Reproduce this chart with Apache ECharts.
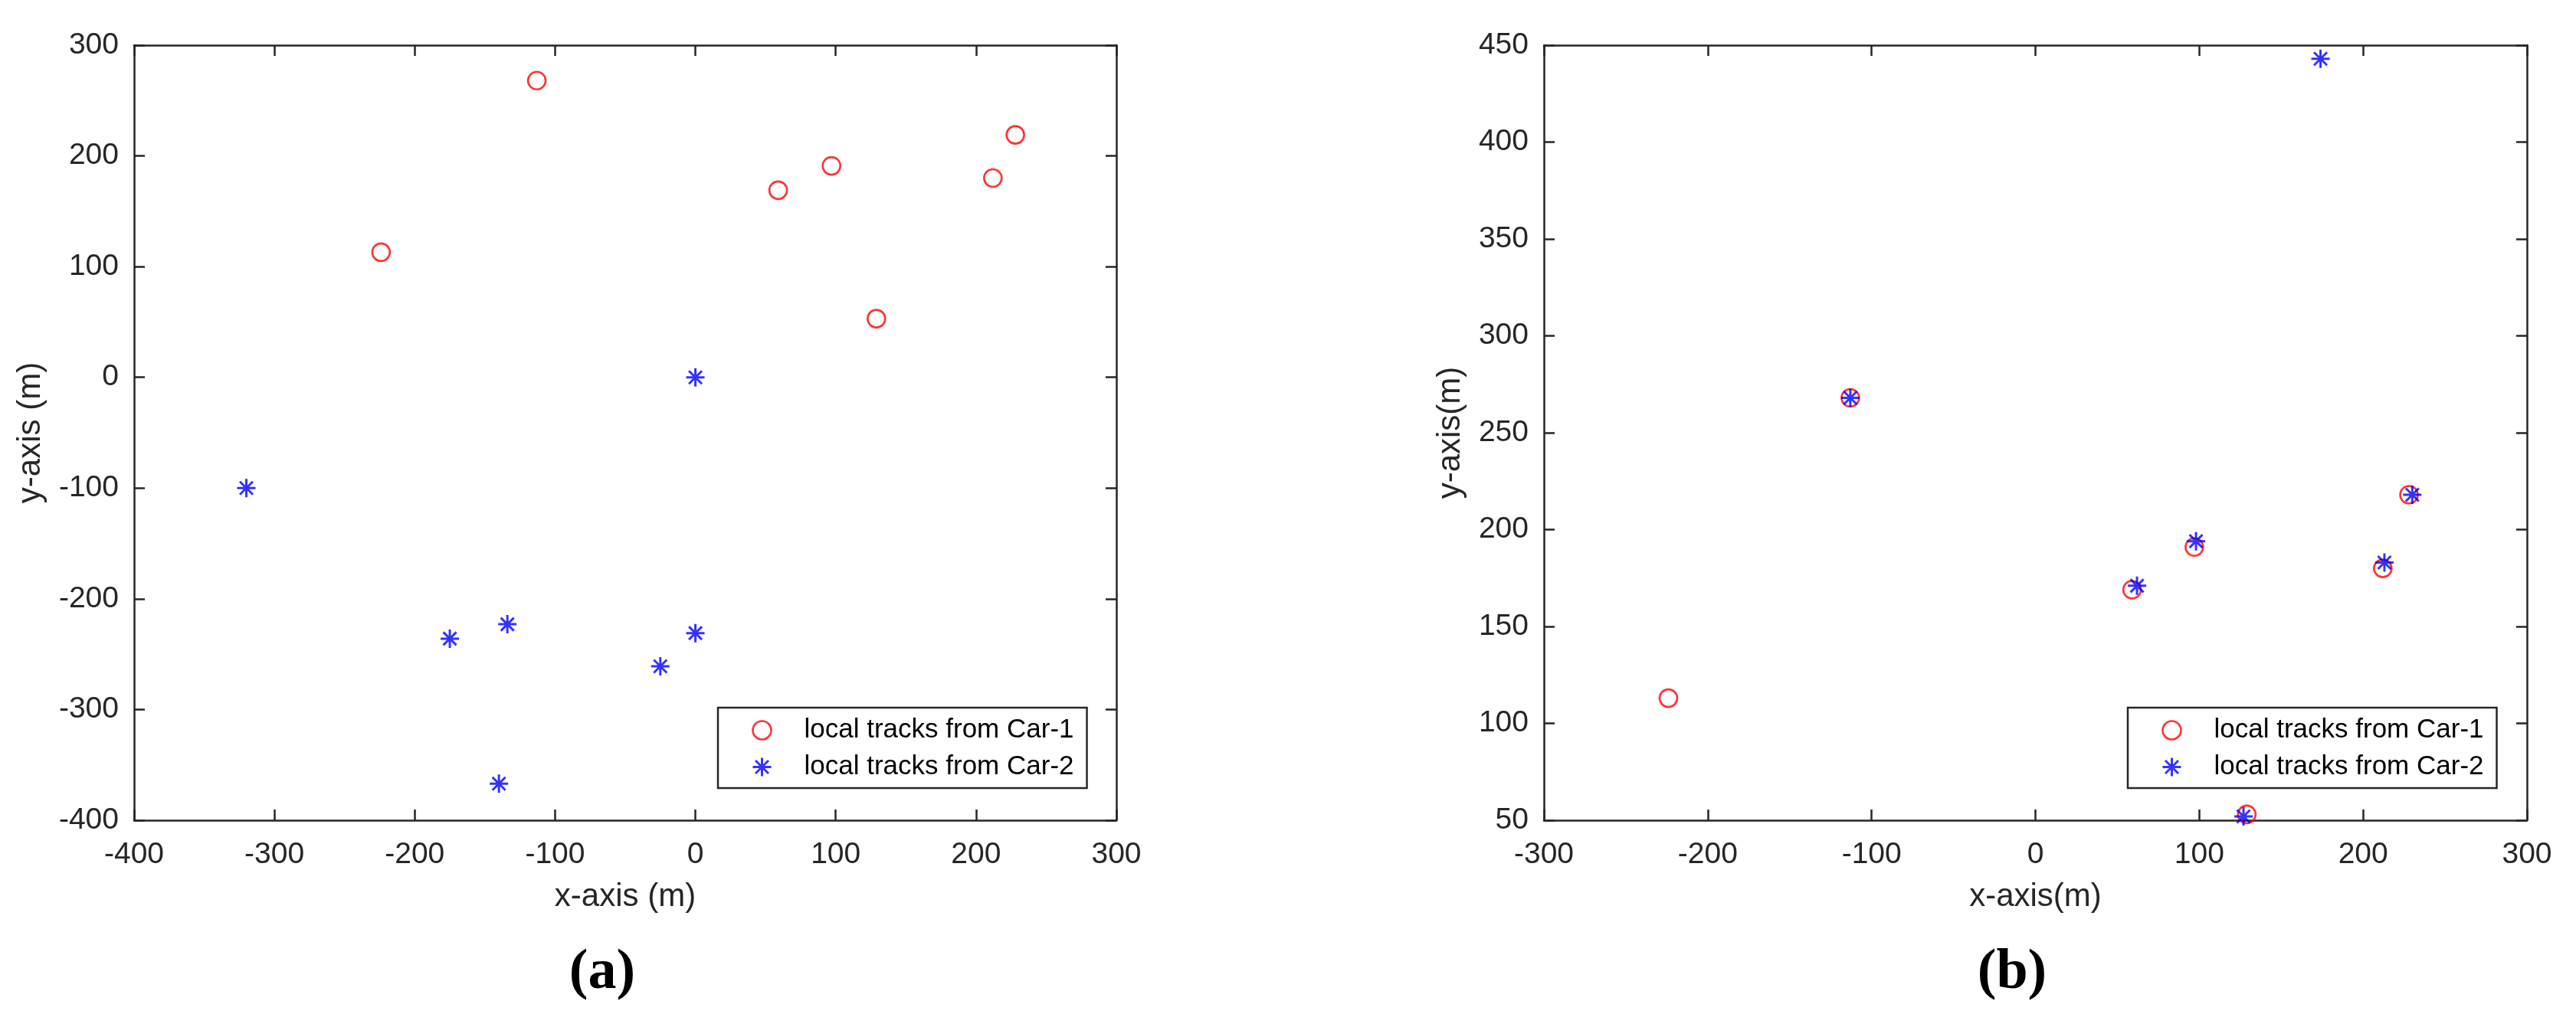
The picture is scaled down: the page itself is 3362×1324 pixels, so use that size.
<!DOCTYPE html>
<html>
<head>
<meta charset="utf-8">
<script src="https://cdn.jsdelivr.net/npm/echarts@6/dist/echarts.min.js"></script>
<style>
  html, body { margin: 0; padding: 0; background: #fff; }
  #chart { width: 3362px; height: 1324px; }
</style>
</head>
<body>
<div id="chart"></div>
<script>
// ---- data ----
const seriesNames = ['local tracks from Car-1', 'local tracks from Car-2'];

// panel (a)
const car1TracksA = [[-224, 113], [-113, 268], [59, 169], [97, 191], [129, 53], [212, 180], [228, 219]];
const car2TracksA = [[-320, -100], [-175, -236], [-140, -367], [-134, -223], [-25, -261], [0, 0], [0, -231]];
const xTicksA = [-400, -300, -200, -100, 0, 100, 200, 300];
const yTicksA = [-400, -300, -200, -100, 0, 100, 200, 300];

// panel (b)
const car1TracksB = [[-224, 113], [-113, 268], [59, 169], [97, 191], [129, 53], [212, 180], [228, 218]];
const car2TracksB = [[-113, 268], [62, 171], [98, 194], [127, 52], [174, 443], [213, 183], [230, 218]];
const xTicksB = [-300, -200, -100, 0, 100, 200, 300];
const yTicksB = [50, 100, 150, 200, 250, 300, 350, 400, 450];

const xTitleA = 'x-axis (m)', yTitleA = 'y-axis (m)';
const xTitleB = 'x-axis(m)', yTitleB = 'y-axis(m)';
const panelLabels = ['(a)', '(b)'];

// ---- styling ----
const AX = '#262626';
const FONT = '"Liberation Sans", Arial, Helvetica, sans-serif';
const STAR = 'path://M0,12L24,12M12,0L12,24M3.5,3.5L20.5,20.5M20.5,3.5L3.5,20.5';
const circleStyle = { color: 'rgba(0,0,0,0)', borderColor: '#FF0000', borderWidth: 2.6 };
const starStyle = { color: 'rgba(0,0,0,0)', borderColor: '#0000FF', borderWidth: 3 };

function rng(t) { return { min: t[0], max: t[t.length - 1], interval: t[1] - t[0] }; }

function mainAxis(ticks, gridIndex, pos, name, nameGap, labelMargin) {
  const r = rng(ticks);
  return {
    type: 'value', gridIndex, position: pos, min: r.min, max: r.max, interval: r.interval,
    name, nameLocation: 'middle', nameGap,
    nameTextStyle: { fontFamily: FONT, fontSize: 42, color: AX, lineHeight: 42 },
    axisLine: { show: true, onZero: false, lineStyle: { color: AX, width: 2.5 } },
    axisTick: { show: true, inside: true, length: 14, lineStyle: { color: AX, width: 2.5 } },
    axisLabel: { show: true, margin: labelMargin, fontFamily: FONT, fontSize: 39, color: AX,
                 showMinLabel: true, showMaxLabel: true },
    splitLine: { show: false }
  };
}
function mirrorAxis(ticks, gridIndex, pos) {
  const r = rng(ticks);
  return {
    type: 'value', gridIndex, position: pos, min: r.min, max: r.max, interval: r.interval,
    axisLine: { show: true, onZero: false, lineStyle: { color: AX, width: 2.5 } },
    axisTick: { show: true, inside: true, length: 14, lineStyle: { color: AX, width: 2.5 } },
    axisLabel: { show: false },
    splitLine: { show: false }
  };
}
function legendAt(left, top) {
  return {
    orient: 'vertical', left, top,
    padding: [12, 17, 10, 44],
    itemWidth: 100, itemHeight: 24, itemGap: 13,
    borderColor: AX, borderWidth: 2.5, backgroundColor: '#fff',
    selectedMode: false,
    textStyle: { fontFamily: FONT, fontSize: 35, lineHeight: 35, color: '#000' },
    data: [
      { name: seriesNames[0], icon: 'circle', itemStyle: circleStyle },
      { name: seriesNames[1], icon: STAR, itemStyle: starStyle }
    ]
  };
}
function scatter(name, data, xi, yi, isStar) {
  return {
    type: 'scatter', name, data, xAxisIndex: xi, yAxisIndex: yi,
    symbol: isStar ? STAR : 'circle', symbolSize: isStar ? 24 : 23,
    itemStyle: isStar ? starStyle : circleStyle,
    emphasis: { disabled: true }, z: isStar ? 3 : 2
  };
}

const chart = echarts.init(document.getElementById('chart'), null, { renderer: 'canvas' });
chart.setOption({
  animation: false,
  backgroundColor: '#fff',
  grid: [
    { left: 175, top: 59, width: 1282, height: 1012 },
    { left: 2015, top: 59, width: 1283, height: 1012 }
  ],
  xAxis: [
    mainAxis(xTicksA, 0, 'bottom', xTitleA, 79, 26),
    mirrorAxis(xTicksA, 0, 'top'),
    mainAxis(xTicksB, 1, 'bottom', xTitleB, 79, 26),
    mirrorAxis(xTicksB, 1, 'top')
  ],
  yAxis: [
    mainAxis(yTicksA, 0, 'left', yTitleA, 114, 20),
    mirrorAxis(yTicksA, 0, 'right'),
    mainAxis(yTicksB, 1, 'left', yTitleB, 101, 20),
    mirrorAxis(yTicksB, 1, 'right')
  ],
  legend: [legendAt(937, 924), legendAt(2777, 924)],
  series: [
    scatter(seriesNames[0], car1TracksA, 0, 0, false),
    scatter(seriesNames[1], car2TracksA, 0, 0, true),
    scatter(seriesNames[0], car1TracksB, 2, 2, false),
    scatter(seriesNames[1], car2TracksB, 2, 2, true)
  ],
  graphic: [
    { type: 'text', x: 786, y: 1271, style: { text: panelLabels[0], fontFamily: '"Liberation Serif", "Times New Roman", serif', fontWeight: 'bold', fontSize: 74, fill: '#000', align: 'center', verticalAlign: 'middle' } },
    { type: 'text', x: 2626, y: 1271, style: { text: panelLabels[1], fontFamily: '"Liberation Serif", "Times New Roman", serif', fontWeight: 'bold', fontSize: 74, fill: '#000', align: 'center', verticalAlign: 'middle' } }
  ]
});
</script>
</body>
</html>
